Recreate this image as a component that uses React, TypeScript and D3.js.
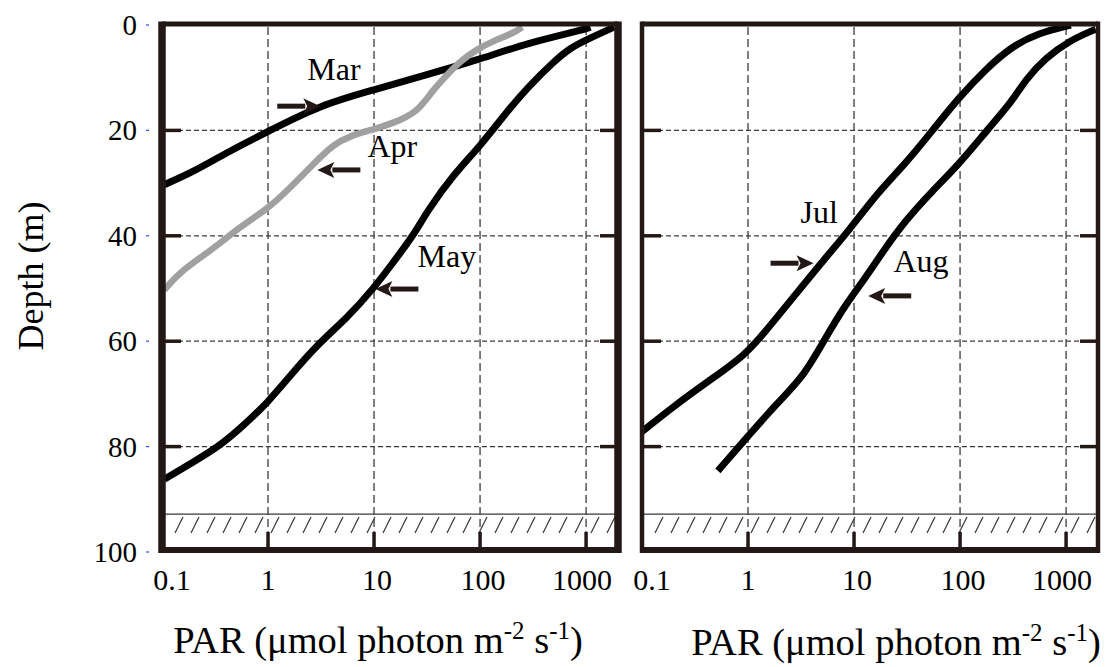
import * as d3 from "d3";

// depth (m) on y, PAR on a log x axis
const parTicks = [0.1, 1, 10, 100, 1000];
const depthTicks = [0, 20, 40, 60, 80, 100];
const gridDepths = [20, 40, 60, 80];
const gridPAR = [1, 10, 100, 1000];
const bottomDepth = 92.8;

const marPAR = [1100, 900, 280, 100, 31.5, 10, 3.1, 1, 0.4, 0.2, 0.105];
const marDepth = [0.4, 1.0, 3.4, 6.5, 9.4, 12.3, 15.2, 20.2, 24.3, 27.8, 30.3];

const aprPAR = [250, 208, 135, 93, 65, 49, 36, 25.3, 15.2, 10, 6, 4.1, 2.67, 1.49, 1, 0.58, 0.28, 0.146, 0.105];
const aprDepth = [0.4, 1.5, 3.0, 4.6, 6.9, 9.4, 12.3, 16.7, 18.6, 19.8, 21, 22.7, 26.4, 31.6, 34.8, 37.9, 43, 46.9, 50.3];

const mayPAR = [1840, 1030, 716, 498, 279, 180, 100, 56, 31.5, 23.6, 15.2, 9.9, 5.5, 3.08, 1.72, 1, 0.58, 0.35, 0.195, 0.105];
const mayDepth = [0.4, 2.7, 4.3, 6.9, 11.9, 16.4, 23, 28.4, 35.4, 39.9, 45, 50, 55.7, 60.2, 65.9, 71.6, 76.1, 79.9, 83, 86.2];

const julPAR = [1107, 555, 310, 174, 97, 54, 30, 17, 8.8, 5.3, 2.76, 1.44, 0.93, 0.45, 0.2, 0.098];
const julDepth = [0, 1.5, 4, 8.4, 13.8, 20.2, 26.5, 31.6, 39.2, 44.3, 51.3, 58.3, 62.7, 67.2, 72.3, 77.3];

const augPAR = [1900, 1065, 647, 416, 310, 186, 97, 54, 30, 19.6, 12.7, 8.2, 5.3, 3.4, 1.92, 1, 0.52];
const augDepth = [0.8, 3, 6.2, 10.3, 14.5, 19.6, 26.5, 31.6, 37.3, 42.4, 48.1, 53.2, 59.6, 66.5, 71.6, 78, 84.6];

// month labels: [left PAR, baseline depth], arrows: [tip PAR, tip depth, direction]
const leftLabels = [
  { text: "Mar", par: 2.35, depth: 10.4, tipPar: 3.11, tipDepth: 15.4, dir: 1 },
  { text: "Apr", par: 8.67, depth: 25.0, tipPar: 2.92, tipDepth: 27.5, dir: -1 },
  { text: "May", par: 25.7, depth: 45.9, tipPar: 10.3, tipDepth: 50.1, dir: -1 },
];
const rightLabels = [
  { text: "Jul", par: 3.13, depth: 37.6, tipPar: 4.15, tipDepth: 45.2, dir: 1 },
  { text: "Aug", par: 23.5, depth: 46.9, tipPar: 13.6, tipDepth: 51.4, dir: -1 },
];

const W = 1110;
const H = 667;
const ink = "#231815";
const serif = "Liberation Serif, Times New Roman, serif";

const y = d3.scaleLinear().domain([0, 100]).range([25, 552]);
const xLeft = d3.scaleLog().domain([0.1, 2000]).range([162, 618]);
const xRight = d3.scaleLog().domain([0.1, 2000]).range([642, 1098]);

type Series = { par: number[]; depth: number[]; color: string; width: number };

const Arrow = ({ x, yy, dir }: { x: number; yy: number; dir: number }) => {
  const len = 43;
  const head = 17;
  const tail = x - dir * len;
  const base = x - dir * head;
  return (
    <g fill={ink} stroke="none">
      <line x1={tail} y1={yy} x2={base + dir * 2} y2={yy} stroke={ink} strokeWidth={5} />
      <path d={`M${x},${yy} L${base},${yy - 8} L${base + dir * 4},${yy} L${base},${yy + 8} Z`} />
    </g>
  );
};

const Panel = ({
  id,
  x,
  series,
  labels,
  sideW,
  title,
  titleY,
}: {
  id: string;
  x: d3.ScaleLogarithmic<number, number>;
  series: Series[];
  labels: typeof leftLabels;
  sideW: number;
  title: number;
  titleY: number;
}) => {
  const [x0, x1] = x.range();
  const top = y(0) - 1;
  const bottom = y(100) - 2;
  const hatchY = y(bottomDepth);
  const line = d3
    .line<[number, number]>()
    .x((d) => x(d[0]))
    .y((d) => y(d[1]))
    .curve(d3.curveBasis);
  const nudge = (v: number) => (v === 0.1 ? 10 : v === 1000 ? -4 : v === 1 ? 0 : 3);
  return (
    <g>
      <defs>
        <clipPath id={id}>
          <rect x={x0} y={top} width={x1 - x0} height={bottom - top} />
        </clipPath>
      </defs>
      {/* grid */}
      {gridPAR.map((v) => (
        <line key={"v" + v} x1={x(v)} x2={x(v)} y1={top + 3} y2={bottom - 18}
          stroke="#3e3a39" strokeWidth={1.3} strokeDasharray="8,4" />
      ))}
      {gridDepths.map((d) => (
        <line key={"h" + d} x1={x0} x2={x1} y1={y(d)} y2={y(d)}
          stroke="#3e3a39" strokeWidth={1.3} strokeDasharray="5,3" />
      ))}
      {/* sea floor */}
      <line x1={x0} x2={x1} y1={hatchY} y2={hatchY} stroke="#3e3a39" strokeWidth={1.3} />
      {d3.range(x0 + 13, x1 - 6, 16).map((hx) => (
        <line key={"t" + hx} x1={hx} y1={hatchY + 19} x2={hx + 8} y2={hatchY + 3}
          stroke="#3e3a39" strokeWidth={1.3} />
      ))}
      {/* ticks */}
      {gridPAR.map((v) => (
        <line key={"b" + v} x1={x(v)} x2={x(v)} y1={bottom} y2={bottom - 18} stroke={ink} strokeWidth={3.5} />
      ))}
      {gridDepths.map((d) => (
        <g key={"s" + d}>
          <line x1={x0} x2={x0 + 19} y1={y(d)} y2={y(d)} stroke={ink} strokeWidth={3.5} />
          <line x1={x1 - 18} x2={x1} y1={y(d)} y2={y(d)} stroke={ink} strokeWidth={3.5} />
        </g>
      ))}
      {/* curves */}
      <g clipPath={`url(#${id})`}>
        {series.map((s, i) => (
          <path key={i} d={line(s.par.map((p, j) => [p, s.depth[j]] as [number, number])) || ""}
            fill="none" stroke={s.color} strokeWidth={s.width} strokeLinejoin="round" />
        ))}
      </g>
      {/* labels and arrows */}
      {labels.map((l) => (
        <g key={l.text}>
          <text x={x(l.par)} y={y(l.depth)} fontFamily={serif} fontSize={32} fill="#000">{l.text}</text>
          <Arrow x={x(l.tipPar)} yy={y(l.tipDepth)} dir={l.dir} />
        </g>
      ))}
      {/* frame */}
      <line x1={x0} x2={x0} y1={top - 2.5} y2={bottom + 3} stroke={ink} strokeWidth={sideW} />
      <line x1={x1} x2={x1} y1={top - 2.5} y2={bottom + 3} stroke={ink} strokeWidth={sideW} />
      <line x1={x0} x2={x1} y1={top} y2={top} stroke={ink} strokeWidth={5} />
      <line x1={x0} x2={x1} y1={bottom} y2={bottom} stroke={ink} strokeWidth={6} />
      {/* x tick labels */}
      {parTicks.map((v) => (
        <text key={"l" + v} x={x(v) + nudge(v)} y={590} textAnchor="middle" fontFamily={serif} fontSize={30} fill="#000">
          {v}
        </text>
      ))}
      <text x={title} y={titleY} textAnchor="middle" fontFamily={serif} fontSize={38.5} fill="#000">
        PAR (μmol photon m<tspan fontSize={25} dy={-14}>-2</tspan>
        <tspan dy={14}> s</tspan>
        <tspan fontSize={25} dy={-14}>-1</tspan>
        <tspan dy={14}>)</tspan>
      </text>
    </g>
  );
};

export default function App() {
  const leftSeries: Series[] = [
    { par: marPAR, depth: marDepth, color: "#000", width: 7 },
    { par: aprPAR, depth: aprDepth, color: "#a0a0a0", width: 6.5 },
    { par: mayPAR, depth: mayDepth, color: "#000", width: 7 },
  ];
  const rightSeries: Series[] = [
    { par: julPAR, depth: julDepth, color: "#000", width: 7 },
    { par: augPAR, depth: augDepth, color: "#000", width: 7 },
  ];
  return (
    <svg width={W} height={H} style={{ position: "absolute", left: 0, top: 0, background: "#fff" }}>
      <rect width={W} height={H} fill="#fff" />
      {depthTicks.map((d) => (
        <g key={d}>
          <text x={137} y={y(d) + 10} textAnchor="end" fontFamily={serif} fontSize={29} fill="#000">{d}</text>
          <line x1={146} x2={149} y1={y(d)} y2={y(d)} stroke="#3050ff" strokeWidth={1.2} />
        </g>
      ))}
      <text transform={`translate(43,276) rotate(-90)`} textAnchor="middle" fontFamily={serif} fontSize={36} fill="#000">
        Depth (m)
      </text>
      <Panel id="clipL" x={xLeft} series={leftSeries} labels={leftLabels} sideW={7.5} title={378} titleY={653} />
      <Panel id="clipR" x={xRight} series={rightSeries} labels={rightLabels} sideW={4.5} title={896} titleY={655} />
    </svg>
  );
}
